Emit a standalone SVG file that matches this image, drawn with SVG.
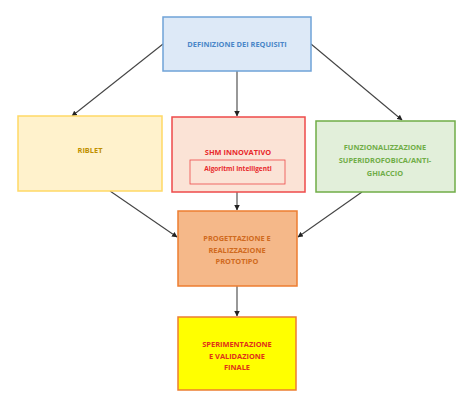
<svg xmlns="http://www.w3.org/2000/svg" width="476" height="411" viewBox="0 0 476 411">
<defs>
<marker id="ah" viewBox="0 0 10 10" refX="9" refY="5" markerWidth="5" markerHeight="5" orient="auto"><path d="M0,0 L10,5 L0,10 z" fill="#222"/></marker>
<style>
text{font-family:"Open Sans","Liberation Sans",sans-serif;font-weight:bold;font-size:7.4px;text-anchor:middle}
.c line{stroke:#444;stroke-width:1.1;marker-end:url(#ah)}
</style>
</defs>
<rect width="476" height="411" fill="#fff"/>
<g class="c" id="connectors">
<line x1="163" y1="44" x2="72" y2="116"/>
<line x1="237" y1="71" x2="237" y2="116"/>
<line x1="311" y1="44" x2="402" y2="120"/>
<line x1="110" y1="191" x2="177" y2="237"/>
<line x1="237" y1="192" x2="237" y2="210"/>
<line x1="362" y1="192" x2="298" y2="237"/>
<line x1="237" y1="286" x2="237" y2="316"/>
</g>
<g id="req">
<rect x="163" y="17" width="148" height="54" fill="#dde9f7" stroke="#6fa3d8" stroke-width="1.5"/>
<text x="237" y="46.5" fill="#4a86c8">DEFINIZIONE DEI REQUISITI</text>
</g>
<g id="riblet">
<rect x="18" y="116" width="144" height="75" fill="#fff2cc" stroke="#ffd966" stroke-width="1.5"/>
<text x="90" y="152.5" fill="#bf9000">RIBLET</text>
</g>
<g id="shm">
<rect x="172" y="117" width="133" height="75" fill="#fbe3d6" stroke="#ee4a4a" stroke-width="1.5"/>
<text x="238" y="154.5" fill="#e8282a">SHM INNOVATIVO</text>
<rect x="190" y="160" width="95" height="24" fill="none" stroke="#ee4a4a" stroke-width="0.8"/>
<text x="238" y="171" fill="#e8282a" style="font-size:6.5px">Algoritmi Intelligenti</text>
</g>
<g id="funz">
<rect x="316" y="121" width="139" height="71" fill="#e2efda" stroke="#70ad47" stroke-width="1.5"/>
<text x="385" y="149.5" fill="#70ad47">FUNZIONALIZZAZIONE</text>
<text x="385" y="162.5" fill="#70ad47">SUPERIDROFOBICA/ANTI-</text>
<text x="385" y="175.5" fill="#70ad47">GHIACCIO</text>
</g>
<g id="prog">
<rect x="178" y="211" width="119" height="75" fill="#f5b889" stroke="#ed7d31" stroke-width="1.5"/>
<text x="237" y="240.5" fill="#d06a20">PROGETTAZIONE E</text>
<text x="237" y="252.5" fill="#d06a20">REALIZZAZIONE</text>
<text x="237" y="264" fill="#d06a20">PROTOTIPO</text>
</g>
<g id="final">
<rect x="178" y="317" width="118" height="73" fill="#ffff00" stroke="#ed7d31" stroke-width="1.5"/>
<text x="237" y="346.5" fill="#e0301a">SPERIMENTAZIONE</text>
<text x="237" y="359" fill="#e0301a">E VALIDAZIONE</text>
<text x="237" y="370" fill="#e0301a">FINALE</text>
</g>
</svg>
